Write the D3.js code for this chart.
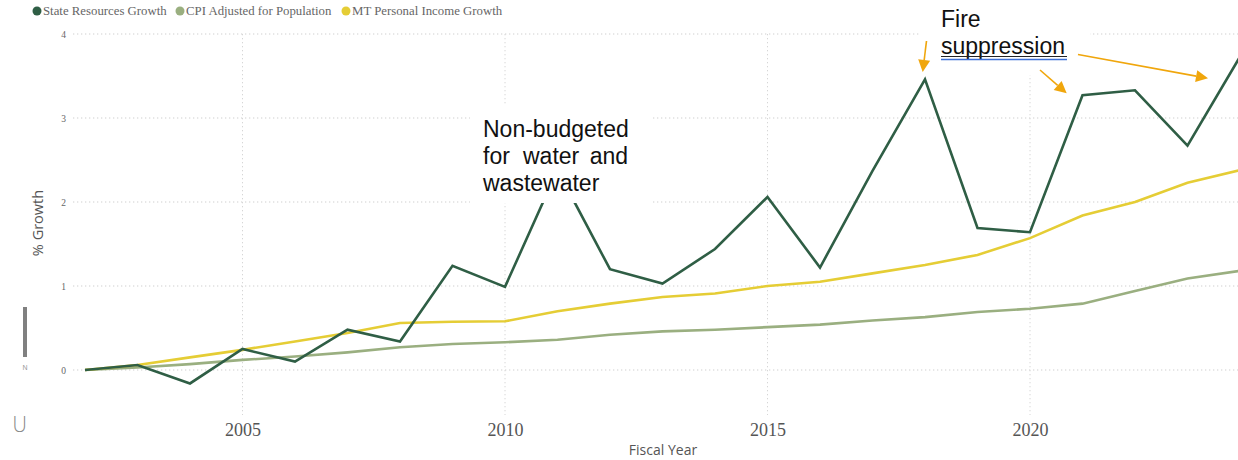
<!DOCTYPE html>
<html>
<head>
<meta charset="utf-8">
<script src="https://d3js.org/d3.v7.min.js"></script>
<style>
  body { margin: 0; background: #fff; }
  svg { display: block; }
</style>
</head>
<body>
<script>
// data
var years = [2002, 2003, 2004, 2005, 2006, 2007, 2008, 2009, 2010, 2011, 2012, 2013,
  2014, 2015, 2016, 2017, 2018, 2019, 2020, 2021, 2022, 2023, 2024];

var state_resources = [0, 0.06, -0.16, 0.25, 0.10, 0.48, 0.34, 1.24, 0.99, 2.38, 1.20, 1.03,
  1.44, 2.06, 1.22, 2.37, 3.46, 1.69, 1.64, 3.27, 3.33, 2.67, 3.73];

var cpi_population = [0, 0.03, 0.07, 0.12, 0.16, 0.21, 0.27, 0.31, 0.33, 0.36, 0.42, 0.46,
  0.48, 0.51, 0.54, 0.59, 0.63, 0.69, 0.73, 0.79, 0.94, 1.09, 1.18];

var personal_income = [0, 0.06, 0.15, 0.24, 0.34, 0.44, 0.56, 0.575, 0.58, 0.70, 0.79, 0.87,
  0.91, 1.00, 1.05, 1.15, 1.25, 1.37, 1.57, 1.84, 2.00, 2.23, 2.38];

var series_names = ["State Resources Growth", "CPI Adjusted for Population", "MT Personal Income Growth"];
var series_colors = ["#2f5e45", "#9aaf80", "#e5cd35"];
var series_values = [state_resources, cpi_population, personal_income];

var y_ticks = [0, 1, 2, 3, 4];
var x_ticks = [2005, 2010, 2015, 2020];

var w = 1238, h = 460;

var svg = d3.select("body")
  .append("svg")
  .attr("width", w)
  .attr("height", h);

// scales
var xScale = d3.scaleLinear()
  .domain([2002, 2024])
  .range([85, 1240]);

var yScale = d3.scaleLinear()
  .domain([0, 4])
  .range([370, 34]);

// horizontal gridlines + y tick labels
svg.append("g")
  .attr("class", "y grid")
  .selectAll("line")
  .data(y_ticks)
  .enter().append("line")
  .attr("x1", 73)
  .attr("x2", w)
  .attr("y1", function(d) { return yScale(d); })
  .attr("y2", function(d) { return yScale(d); })
  .attr("stroke", "#cfcfcf")
  .attr("stroke-width", 1)
  .attr("stroke-dasharray", "1.3,2.7");

var yAxis = svg.append("g")
  .attr("transform", "translate(66,0)")
  .call(d3.axisLeft(yScale).tickValues(y_ticks).tickSize(0).tickPadding(0).tickFormat(d3.format("d")));
yAxis.select(".domain").remove();
yAxis.selectAll("text")
  .attr("font-family", "Liberation Serif, serif")
  .attr("font-size", 9.5)
  .attr("fill", "#666");

// vertical gridlines
svg.append("g")
  .attr("class", "x grid")
  .selectAll("line")
  .data(x_ticks)
  .enter().append("line")
  .attr("x1", function(d) { return xScale(d); })
  .attr("x2", function(d) { return xScale(d); })
  .attr("y1", 34)
  .attr("y2", 415)
  .attr("stroke", "#d6d6d6")
  .attr("stroke-width", 1)
  .attr("stroke-dasharray", "1.3,2.7");

// x axis labels
var xAxis = svg.append("g")
  .attr("transform", "translate(0,423)")
  .call(d3.axisBottom(xScale).tickValues(x_ticks).tickSize(0).tickPadding(0).tickFormat(d3.format("d")));
xAxis.select(".domain").remove();
xAxis.selectAll("text")
  .attr("font-family", "Liberation Serif, serif")
  .attr("font-size", 18)
  .attr("fill", "#555");

// lines, light ones first so the dark green sits on top
var line = d3.line()
  .x(function(d, i) { return xScale(years[i]); })
  .y(function(d) { return yScale(d); });

[1, 2, 0].forEach(function(s) {
  svg.append("path")
    .datum(series_values[s])
    .attr("d", line)
    .attr("fill", "none")
    .attr("stroke", series_colors[s])
    .attr("stroke-width", 2.6)
    .attr("stroke-linejoin", "miter");
});

// legend
var legend_x = [37, 180, 346];
var legend = svg.append("g").attr("class", "legend");
series_names.forEach(function(name, i) {
  legend.append("circle")
    .attr("cx", legend_x[i])
    .attr("cy", 11)
    .attr("r", 4.5)
    .attr("fill", series_colors[i]);
  legend.append("text")
    .attr("x", legend_x[i] + 6)
    .attr("y", 15)
    .attr("font-family", "Liberation Serif, serif")
    .attr("font-size", 12.8)
    .attr("fill", "#666")
    .text(name);
});

// axis titles
svg.append("text")
  .attr("transform", "translate(43,223) rotate(-90)")
  .attr("text-anchor", "middle")
  .attr("font-family", "Open Sans, sans-serif")
  .attr("font-size", 14.5)
  .attr("fill", "#555")
  .text("% Growth");

svg.append("text")
  .attr("x", 663)
  .attr("y", 455)
  .attr("text-anchor", "middle")
  .attr("font-family", "Open Sans, sans-serif")
  .attr("font-size", 14)
  .attr("fill", "#555")
  .text("Fiscal Year");

// leftover bits at the left edge
svg.append("rect")
  .attr("x", 23)
  .attr("y", 307)
  .attr("width", 4)
  .attr("height", 50)
  .attr("fill", "#808080");
svg.append("text")
  .attr("x", 25)
  .attr("y", 370)
  .attr("text-anchor", "middle")
  .attr("font-family", "Liberation Sans, sans-serif")
  .attr("font-size", 7)
  .attr("fill", "#999")
  .text("N");
svg.append("text")
  .attr("x", 12)
  .attr("y", 432)
  .attr("font-family", "DejaVu Sans, sans-serif")
  .attr("font-size", 21)
  .attr("font-weight", 300)
  .attr("fill", "#888")
  .text("U");

// annotation: non-budgeted
svg.append("rect")
  .attr("x", 470)
  .attr("y", 104)
  .attr("width", 182)
  .attr("height", 99)
  .attr("fill", "#fff");

var note = svg.append("g")
  .attr("font-family", "Liberation Sans, Arial, sans-serif")
  .attr("font-size", 23)
  .attr("fill", "#111");
note.append("text").attr("x", 483).attr("y", 137).text("Non-budgeted");
note.append("text").attr("x", 483).attr("y", 163.5).text("for");
note.append("text").attr("x", 523).attr("y", 163.5).text("water");
note.append("text").attr("x", 628).attr("y", 163.5).attr("text-anchor", "end").text("and");
note.append("text").attr("x", 483).attr("y", 190.5).text("wastewater");

// annotation: fire suppression
svg.append("rect")
  .attr("x", 921)
  .attr("y", 0)
  .attr("width", 169)
  .attr("height", 75)
  .attr("fill", "#fff");

var fire = svg.append("g")
  .attr("font-family", "Liberation Sans, Arial, sans-serif")
  .attr("font-size", 23)
  .attr("fill", "#111");
fire.append("text").attr("x", 941).attr("y", 27).text("Fire");
fire.append("text").attr("x", 941).attr("y", 54).text("suppression");
svg.append("line")
  .attr("x1", 941).attr("x2", 1067)
  .attr("y1", 56.5).attr("y2", 56.5)
  .attr("stroke", "#222").attr("stroke-width", 1.2);
svg.append("line")
  .attr("x1", 941).attr("x2", 1067)
  .attr("y1", 59.5).attr("y2", 59.5)
  .attr("stroke", "#3d6fd6").attr("stroke-width", 1.4);

// orange arrows
var arrows = [
  [926.5, 41, 922.7, 72],
  [1040, 70, 1066.7, 93.3],
  [1078, 54.5, 1208, 78.3]
];
var orange = "#f0a60c";
arrows.forEach(function(a) {
  var dx = a[2] - a[0], dy = a[3] - a[1];
  var len = Math.sqrt(dx * dx + dy * dy);
  var ux = dx / len, uy = dy / len;
  var head = 12, half = 6;
  var bx = a[2] - ux * head, by = a[3] - uy * head;
  svg.append("line")
    .attr("x1", a[0]).attr("y1", a[1])
    .attr("x2", bx).attr("y2", by)
    .attr("stroke", orange)
    .attr("stroke-width", 1.6);
  svg.append("path")
    .attr("d", "M" + a[2] + "," + a[3] +
      "L" + (bx - uy * half) + "," + (by + ux * half) +
      "L" + (bx + uy * half) + "," + (by - ux * half) + "Z")
    .attr("fill", orange);
});
</script>
</body>
</html>
